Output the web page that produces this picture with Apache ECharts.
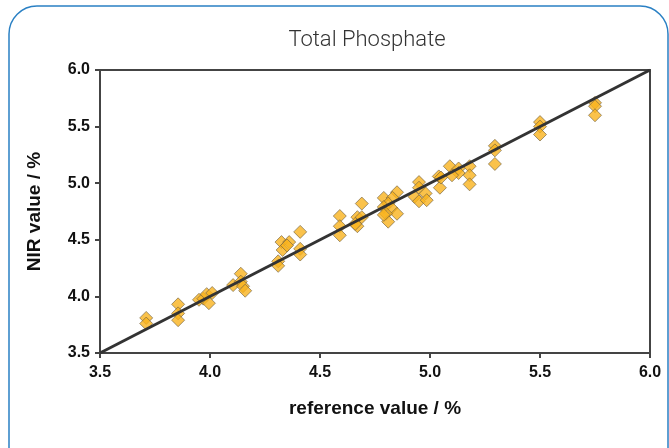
<!DOCTYPE html>
<html>
<head>
<meta charset="utf-8">
<script src="https://cdn.jsdelivr.net/npm/echarts@6/dist/echarts.min.js"></script>
<style>
  html, body { margin: 0; padding: 0; background: #fff; }
  #chart { width: 669px; height: 448px; }
</style>
</head>
<body>
<div id="chart"></div>
<script>
// reference value (x) and NIR value (y)
var refValue = [3.71, 3.71, 3.855, 3.855, 3.855, 3.95, 3.97, 3.985, 4.01, 3.995,
  4.105, 4.14, 4.14, 4.15, 4.16, 4.31, 4.31, 4.325, 4.36, 4.33,
  4.35, 4.41, 4.41, 4.41, 4.59, 4.59, 4.59, 4.69, 4.67, 4.67,
  4.69, 4.66, 4.79, 4.85, 4.83, 4.81, 4.79, 4.825, 4.85, 4.80,
  4.81, 4.79, 4.95, 4.95, 4.93, 4.98, 4.95, 4.985, 5.04, 5.045,
  5.05, 5.09, 5.13, 5.13, 5.10, 5.18, 5.18, 5.18, 5.295, 5.295,
  5.295, 5.50, 5.50, 5.50, 5.75, 5.75, 5.75];
var nirValue = [3.81, 3.76, 3.93, 3.85, 3.79, 3.97, 3.98, 4.02, 4.03, 3.94,
  4.10, 4.20, 4.13, 4.09, 4.05, 4.31, 4.27, 4.48, 4.48, 4.41,
  4.45, 4.57, 4.42, 4.37, 4.71, 4.62, 4.54, 4.82, 4.70, 4.62,
  4.70, 4.64, 4.87, 4.92, 4.87, 4.82, 4.79, 4.78, 4.73, 4.73,
  4.66, 4.72, 5.01, 4.96, 4.88, 4.91, 4.84, 4.85, 5.06, 4.96,
  5.05, 5.15, 5.13, 5.09, 5.07, 5.15, 5.07, 4.99, 5.33, 5.29,
  5.17, 5.54, 5.50, 5.43, 5.71, 5.68, 5.60];
var lineEnds = [3.5, 6.0];

var points = refValue.map(function (x, i) { return [x, nirValue[i]]; });
var diag = lineEnds.map(function (v) { return [v, v]; });

var chart = echarts.init(document.getElementById('chart'));
var tickFont = { color: '#111', fontSize: 16, fontWeight: 'bold', fontFamily: 'Liberation Sans' };
var nameFont = { color: '#111', fontSize: 19, fontWeight: 'bold', fontFamily: 'Liberation Sans' };

chart.setOption({
  animation: false,
  graphic: [{
    type: 'rect',
    shape: { x: 9, y: 6, width: 659, height: 520, r: 28 },
    style: { fill: 'none', stroke: '#2a80c4', lineWidth: 1.5 },
    silent: true
  }],
  title: {
    text: 'Total Phosphate',
    left: 362,
    top: 24,
    textAlign: 'center',
    textStyle: { color: '#333', fontSize: 22, fontWeight: 300, fontFamily: 'Roboto' }
  },
  grid: {
    left: 100, right: 19, top: 70, bottom: 95,
    show: true, borderColor: '#444', borderWidth: 2
  },
  xAxis: {
    type: 'value', min: 3.5, max: 6.0, interval: 0.5,
    name: 'reference value / %',
    nameLocation: 'middle', nameGap: 46,
    nameTextStyle: nameFont,
    axisLine: { lineStyle: { color: '#444', width: 2 } },
    axisTick: { show: true, length: 5, lineStyle: { color: '#444', width: 2 } },
    axisLabel: Object.assign({ margin: 12, formatter: function (v) { return v.toFixed(1); } }, tickFont),
    splitLine: { show: false }
  },
  yAxis: {
    type: 'value', min: 3.5, max: 6.0, interval: 0.5,
    name: 'NIR value / %',
    nameLocation: 'middle', nameGap: 56,
    nameTextStyle: nameFont,
    axisLine: { lineStyle: { color: '#444', width: 2 } },
    axisTick: { show: true, length: 5, lineStyle: { color: '#444', width: 2 } },
    axisLabel: Object.assign({ margin: 10, formatter: function (v) { return v.toFixed(1); } }, tickFont),
    splitLine: { show: false }
  },
  series: [
    {
      type: 'line',
      data: diag,
      symbol: 'none',
      lineStyle: { color: '#333', width: 3 },
      z: 3
    },
    {
      type: 'scatter',
      data: points,
      symbol: 'diamond',
      symbolSize: 13,
      itemStyle: { color: '#f9b31e', borderColor: '#6e5f40', borderWidth: 0.8 },
      z: 2
    }
  ]
});
</script>
</body>
</html>
